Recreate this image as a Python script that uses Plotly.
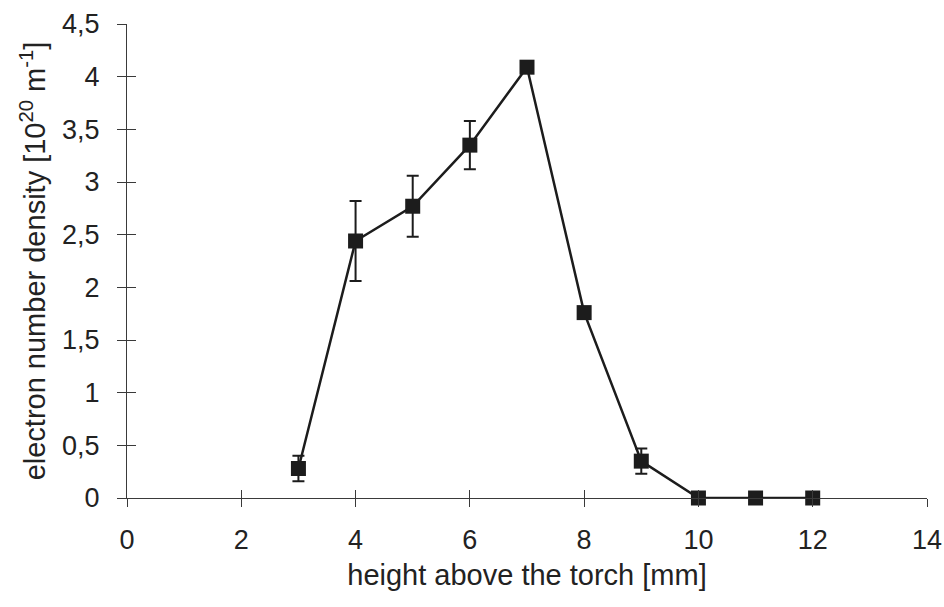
import plotly.graph_objects as go

# Electron number density profile along the torch axis
height_mm = [3, 4, 5, 6, 7, 8, 9, 10, 11, 12]
density = [0.28, 2.44, 2.77, 3.35, 4.09, 1.76, 0.35, 0.0, 0.0, 0.0]
density_err = [0.12, 0.38, 0.29, 0.23, 0.03, 0.04, 0.12, 0.0, 0.0, 0.0]

x_ticks = [0, 2, 4, 6, 8, 10, 12, 14]
y_ticks = [0, 0.5, 1, 1.5, 2, 2.5, 3, 3.5, 4, 4.5]
y_tick_text = ["0", "0,5", "1", "1,5", "2", "2,5", "3", "3,5", "4", "4,5"]

ink = "#1c1c1c"
axis_col = "#3a3a3a"
font_family = "Liberation Sans, Arial, sans-serif"

fig = go.Figure()

fig.add_trace(go.Scatter(
    x=height_mm, y=density,
    mode="lines+markers",
    line=dict(color=ink, width=2.5),
    marker=dict(symbol="square", size=15, color=ink),
    error_y=dict(type="data", array=density_err, visible=True,
                 color=ink, thickness=2, width=6),
    cliponaxis=False,
    showlegend=False,
))

# companion trace that carries the inner half of the crossing tick marks
fig.add_trace(go.Scatter(
    x=height_mm, y=density, xaxis="x2", yaxis="y2",
    mode="markers", marker=dict(opacity=0), hoverinfo="skip",
    showlegend=False,
))

common_x = dict(range=[0, 14], tickmode="array", tickvals=x_ticks,
                showgrid=False, zeroline=False, automargin=False)
common_y = dict(range=[0, 4.5], tickmode="array", tickvals=y_ticks,
                showgrid=False, zeroline=False, automargin=False)

fig.update_layout(
    width=944, height=607,
    margin=dict(l=127, r=17, t=24, b=109),
    paper_bgcolor="white", plot_bgcolor="white",
    font=dict(family=font_family, size=27, color="#222"),
    xaxis=dict(
        **common_x,
        ticktext=[str(v) for v in x_ticks],
        ticks="outside", ticklen=8, tickwidth=1, tickcolor=axis_col,
        showline=True, linecolor=axis_col, linewidth=1,
        ticklabelstandoff=10,
        tickfont=dict(size=27),
        title=dict(text="height above the torch [mm]", font=dict(size=29), standoff=10),
    ),
    yaxis=dict(
        **common_y,
        ticktext=y_tick_text,
        ticks="outside", ticklen=9, tickwidth=1, tickcolor=axis_col,
        showline=True, linecolor=axis_col, linewidth=1,
        ticklabelstandoff=12,
        tickfont=dict(size=27),
        title=dict(text="electron number density [10<sup>20</sup> m<sup>-1</sup>]",
                   font=dict(size=29), standoff=7),
    ),
    xaxis2=dict(
        **common_x, overlaying="x", side="bottom", anchor="y2",
        ticks="inside", ticklen=8, tickwidth=1, tickcolor=axis_col,
        showticklabels=False, showline=False,
    ),
    yaxis2=dict(
        **common_y, overlaying="y", side="left", anchor="x2",
        ticks="inside", ticklen=9, tickwidth=1, tickcolor=axis_col,
        showticklabels=False, showline=False,
    ),
)

fig.write_html("out.html")
